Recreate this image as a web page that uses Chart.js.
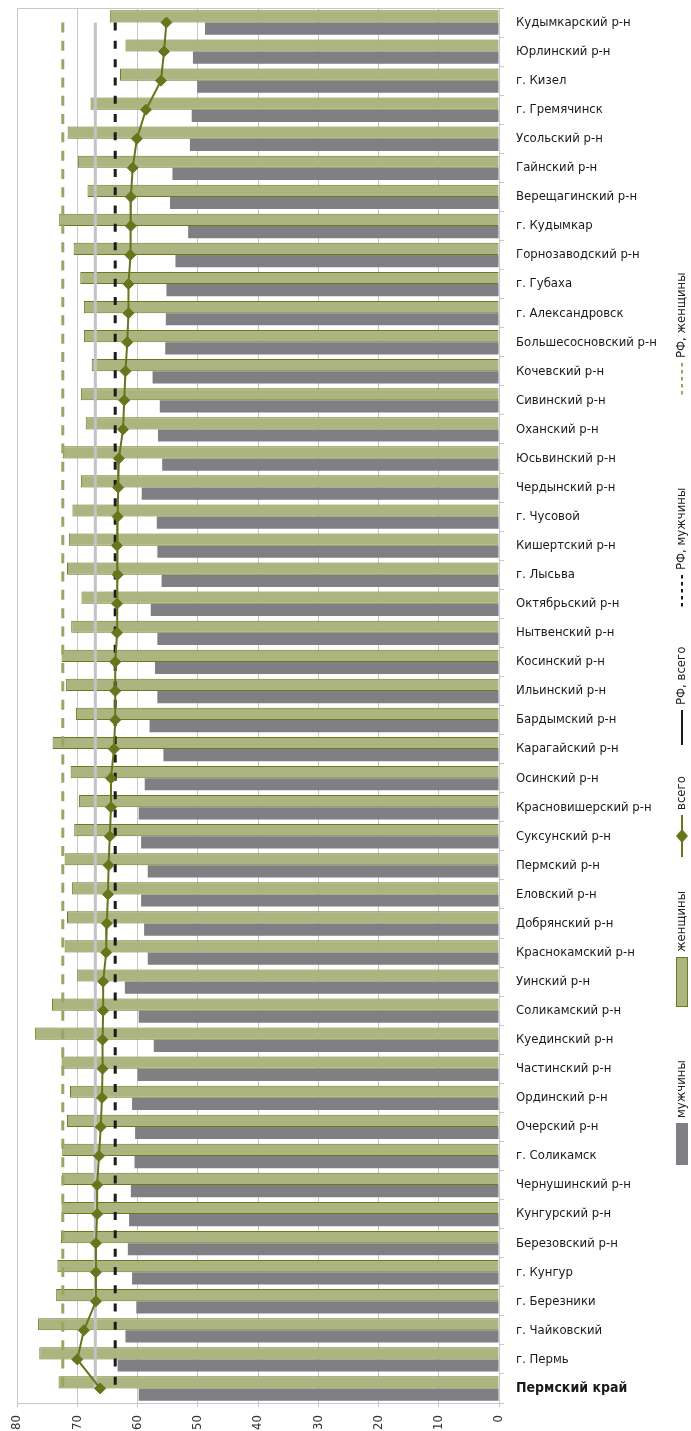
<!DOCTYPE html>
<html lang="ru">
<head>
<meta charset="UTF-8">
<title>Пермский край</title>
<style>
  html, body { margin: 0; padding: 0; background: #fff; }
  #wrap { width: 691px; height: 1431px; }
</style>
</head>
<body>
<div id="wrap"><canvas id="chart"></canvas></div>

<script src="https://cdn.jsdelivr.net/npm/chart.js"></script>
<script>
// районы / города, сверху вниз
const categories = [
  'Кудымкарский р-н', 'Юрлинский р-н', 'г. Кизел', 'г. Гремячинск', 'Усольский р-н',
  'Гайнский р-н', 'Верещагинский р-н', 'г. Кудымкар', 'Горнозаводский р-н', 'г. Губаха',
  'г. Александровск', 'Большесосновский р-н', 'Кочевский р-н', 'Сивинский р-н', 'Оханский р-н',
  'Юсьвинский р-н', 'Чердынский р-н', 'г. Чусовой', 'Кишертский р-н', 'г. Лысьва',
  'Октябрьский р-н', 'Нытвенский р-н', 'Косинский р-н', 'Ильинский р-н', 'Бардымский р-н',
  'Карагайский р-н', 'Осинский р-н', 'Красновишерский р-н', 'Суксунский р-н', 'Пермский р-н',
  'Еловский р-н', 'Добрянский р-н', 'Краснокамский р-н', 'Уинский р-н', 'Соликамский р-н',
  'Куединский р-н', 'Частинский р-н', 'Ординский р-н', 'Очерский р-н', 'г. Соликамск',
  'Чернушинский р-н', 'Кунгурский р-н', 'Березовский р-н', 'г. Кунгур', 'г. Березники',
  'г. Чайковский', 'г. Пермь', 'Пермский край'
];

const women = [
  64.6, 62.0, 62.9, 67.8, 71.6, 69.9, 68.3, 73.0, 70.6, 69.5,
  68.9, 68.9, 67.6, 69.4, 68.6, 72.4, 69.4, 70.8, 71.4, 71.7,
  69.3, 71.0, 72.6, 71.9, 70.2, 74.1, 71.1, 69.7, 70.5, 72.1,
  70.9, 71.7, 72.1, 70.0, 74.2, 77.0, 72.6, 71.2, 71.7, 72.5,
  72.5, 72.6, 72.7, 73.3, 73.5, 76.5, 76.3, 73.1
];

const men = [
  48.8, 50.8, 50.1, 51.0, 51.3, 54.2, 54.6, 51.6, 53.7, 55.2,
  55.3, 55.4, 57.5, 56.3, 56.6, 55.9, 59.3, 56.8, 56.7, 56.0,
  57.8, 56.7, 57.1, 56.7, 58.0, 55.7, 58.8, 59.8, 59.4, 58.3,
  59.4, 58.9, 58.3, 62.1, 59.8, 57.3, 60.0, 60.9, 60.4, 60.5,
  61.1, 61.4, 61.6, 60.9, 60.2, 62.0, 63.3, 59.8
];

const total = [
  55.2, 55.6, 56.1, 58.6, 60.1, 60.8, 61.1, 61.1, 61.2, 61.5,
  61.5, 61.7, 62.0, 62.2, 62.4, 63.1, 63.2, 63.3, 63.4, 63.3,
  63.4, 63.4, 63.7, 63.7, 63.7, 63.9, 64.4, 64.4, 64.6, 64.8,
  64.9, 65.1, 65.2, 65.7, 65.7, 65.8, 65.8, 65.9, 66.1, 66.4,
  66.7, 66.7, 66.9, 66.9, 66.9, 68.9, 70.0, 66.2
];

// показатели по РФ
const rfTotal = 67.0;
const rfMen = 63.7;
const rfWomen = 72.4;

const xTicks = [0, 10, 20, 30, 40, 50, 60, 70, 80];

const cond = "'DejaVu Sans Condensed', 'DejaVu Sans', sans-serif";
const greenFill = '#abb57f';
const greenLine = '#6b7a1f';
const olive = '#66761c';
const grayFill = '#7f7f84';
const oliveDash = '#9aa666';
const gridColor = '#c8c8cc';

const flat = v => categories.map(() => v);

// верхняя рамка области построения
const framePlugin = {
  id: 'frame',
  beforeDatasetsDraw(chart) {
    const { ctx, chartArea: a } = chart;
    ctx.save();
    ctx.strokeStyle = gridColor;
    ctx.lineWidth = 1;
    ctx.beginPath();
    ctx.moveTo(a.left, a.top + 0.5);
    ctx.lineTo(a.right, a.top + 0.5);
    ctx.stroke();
    ctx.restore();
  }
};

// легенда справа, повернутая на 90 градусов
const legendPlugin = {
  id: 'sideLegend',
  afterDraw(chart) {
    const ctx = chart.ctx;
    const ds = chart.data.datasets;
    const x = 682;
    const items = [
      { label: ds[1].label, kind: 'box', fill: grayFill, y1: 1123, y2: 1165 },
      { label: ds[0].label, kind: 'box', fill: greenFill, stroke: greenLine, y1: 957, y2: 1007 },
      { label: ds[5].label, kind: 'marker', y1: 815, y2: 857 },
      { label: ds[2].label, kind: 'line', color: '#1a1a1a', dash: [], y1: 710, y2: 745 },
      { label: ds[3].label, kind: 'line', color: '#1a1a1a', dash: [3.5, 3.5], y1: 575, y2: 608 },
      { label: ds[4].label, kind: 'line', color: oliveDash, dash: [3.5, 3.5], y1: 363, y2: 397 }
    ];
    ctx.save();
    items.forEach(it => {
      if (it.kind === 'box') {
        ctx.fillStyle = it.fill;
        ctx.fillRect(x - 6, it.y1, 12, it.y2 - it.y1);
        if (it.stroke) {
          ctx.strokeStyle = it.stroke;
          ctx.lineWidth = 1;
          ctx.strokeRect(x - 5.5, it.y1 + 0.5, 11, it.y2 - it.y1 - 1);
        }
      } else if (it.kind === 'line') {
        ctx.strokeStyle = it.color;
        ctx.lineWidth = 2;
        ctx.setLineDash(it.dash);
        ctx.beginPath();
        ctx.moveTo(x, it.y1);
        ctx.lineTo(x, it.y2);
        ctx.stroke();
        ctx.setLineDash([]);
      } else {
        ctx.strokeStyle = olive;
        ctx.lineWidth = 2;
        ctx.beginPath();
        ctx.moveTo(x, it.y1);
        ctx.lineTo(x, it.y2);
        ctx.stroke();
        const cy = (it.y1 + it.y2) / 2;
        ctx.fillStyle = olive;
        ctx.beginPath();
        ctx.moveTo(x, cy - 7);
        ctx.lineTo(x + 6, cy);
        ctx.lineTo(x, cy + 7);
        ctx.lineTo(x - 6, cy);
        ctx.closePath();
        ctx.fill();
      }
      ctx.save();
      ctx.translate(x, it.y1 - 5);
      ctx.rotate(-Math.PI / 2);
      ctx.fillStyle = '#222';
      ctx.font = '13px ' + cond;
      ctx.textAlign = 'left';
      ctx.textBaseline = 'middle';
      ctx.fillText(it.label, 0, 0);
      ctx.restore();
    });
    ctx.restore();
  }
};

new Chart(document.getElementById('chart'), {
  type: 'bar',
  data: {
    labels: categories,
    datasets: [
      {
        label: 'женщины',
        data: women,
        backgroundColor: greenFill,
        borderColor: greenLine,
        borderWidth: 1,
        borderSkipped: false,
        order: 2
      },
      {
        label: 'мужчины',
        data: men,
        backgroundColor: grayFill,
        borderWidth: 0,
        order: 2
      },
      {
        type: 'line',
        label: 'РФ, всего',
        data: flat(rfTotal),
        borderColor: '#c3c3c7',
        borderWidth: 3,
        pointRadius: 0,
        order: 1
      },
      {
        type: 'line',
        label: 'РФ, мужчины',
        data: flat(rfMen),
        borderColor: '#1a1a1a',
        borderWidth: 3,
        borderDash: [8, 10.3],
        pointRadius: 0,
        order: 1
      },
      {
        type: 'line',
        label: 'РФ, женщины',
        data: flat(rfWomen),
        borderColor: oliveDash,
        borderWidth: 3,
        borderDash: [10, 8.3],
        pointRadius: 0,
        order: 1
      },
      {
        type: 'line',
        label: 'всего',
        data: total,
        borderColor: olive,
        borderWidth: 2,
        pointStyle: 'rectRot',
        pointRadius: 5.5,
        pointBorderWidth: 1,
        pointBackgroundColor: olive,
        pointBorderColor: olive,
        order: 0
      }
    ]
  },
  options: {
    indexAxis: 'y',
    responsive: true,
    maintainAspectRatio: false,
    animation: false,
    layout: { autoPadding: false, padding: { top: 8, left: 17, right: 0, bottom: 0 } },
    datasets: {
      bar: { categoryPercentage: 0.84, barPercentage: 1.0 }
    },
    plugins: {
      legend: { display: false },
      tooltip: { enabled: false }
    },
    scales: {
      x: {
        position: 'bottom',
        reverse: true,
        min: xTicks[0],
        max: xTicks[xTicks.length - 1],
        afterBuildTicks: s => { s.ticks = xTicks.map(v => ({ value: v })); },
        afterFit: s => { s.height = 28; s.paddingLeft = 0; s.paddingRight = 0; },
        grid: { color: gridColor, tickLength: 4 },
        border: { color: gridColor },
        ticks: {
          autoSkip: false,
          minRotation: 90,
          maxRotation: 90,
          padding: 8,
          color: '#333',
          font: { family: cond, size: 13 }
        }
      },
      y: {
        position: 'right',
        offset: true,
        afterFit: s => { s.width = 192; s.paddingTop = 0; s.paddingBottom = 0; },
        grid: { offset: true, drawOnChartArea: false, color: gridColor, tickLength: 5 },
        border: { color: gridColor },
        ticks: {
          autoSkip: false,
          padding: 12,
          color: '#1a1a1a',
          font: c => c.index === categories.length - 1
            ? { family: cond, size: 14, weight: 'bold' }
            : { family: cond, size: 13 }
        }
      }
    }
  },
  plugins: [framePlugin, legendPlugin]
});
</script>
</body>
</html>
